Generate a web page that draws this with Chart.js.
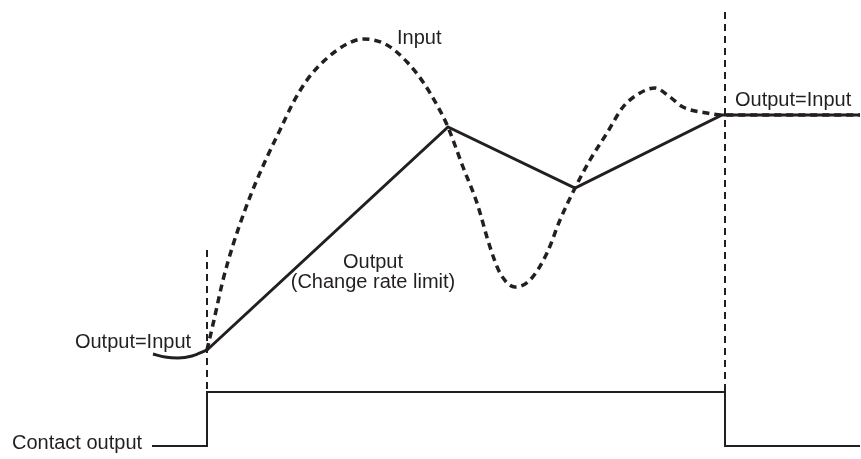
<!DOCTYPE html>
<html>
<head>
<meta charset="utf-8">
<script src="https://cdn.jsdelivr.net/npm/chart.js@4/dist/chart.umd.min.js"></script>
<style>
  html, body { margin: 0; padding: 0; background: #ffffff; }
  #wrap { width: 861px; height: 459px; }
</style>
</head>
<body>
<div id="wrap"><canvas id="c" width="861" height="459"></canvas></div>
<script>
// ---- data (time on x, signal level on y) ----
const inputTime  = [207, 214, 223, 233, 245, 256, 268, 280, 293, 307, 325, 347, 363, 387, 407, 423, 437, 448, 453, 463, 477, 490, 500, 515, 530, 547, 560, 575, 590, 607, 623, 640, 655, 670, 683, 707, 722, 860];
const inputLevel = [109, 139, 179, 214, 249, 277, 304, 329, 356, 379, 399, 415, 420, 414, 397, 377, 354, 332, 319, 292, 256, 212, 186, 172, 179, 206, 239, 271, 299, 326, 352, 366, 371, 362, 352, 346, 344, 344];

const outputBeforeTime  = [153, 165, 178, 192, 207];
const outputBeforeLevel = [105, 102, 101, 103, 109];

const outputLimitTime  = [207, 448, 575, 722, 860];
const outputLimitLevel = [109, 332, 271, 344, 344];

const contactTime  = [152, 207, 725, 860];
const contactLevel = [13, 67, 13, 13];

const startTime = 207, endTime = 725;
const startMarkerLevels = [209, 67];
const endMarkerLevels   = [447, 67];

const labelTexts  = ["Input", "Output=Input", "Output=Input", "Output", "(Change rate limit)", "Contact output"];
const labelTime   = [397, 133, 735, 373, 373, 12];
const labelLevel  = [421, 117, 359, 197, 177, 16];
const labelAlign  = ["left", "center", "left", "center", "center", "left"];

const ink = "#231f20";
const pts = (xs, ys) => xs.map((x, i) => ({ x: x, y: ys[i] }));

const labelPlugin = {
  id: "labels",
  afterDatasetsDraw(chart) {
    const ctx = chart.ctx, xs = chart.scales.x, ys = chart.scales.y;
    ctx.save();
    ctx.fillStyle = ink;
    ctx.font = '20px "Liberation Sans", Arial, sans-serif';
    ctx.textBaseline = "middle";
    labelTexts.forEach((t, i) => {
      ctx.textAlign = labelAlign[i];
      ctx.fillText(t, xs.getPixelForValue(labelTime[i]), ys.getPixelForValue(labelLevel[i]));
    });
    ctx.restore();
  }
};

new Chart(document.getElementById("c"), {
  type: "scatter",
  data: {
    datasets: [
      { label: "Start", data: pts([startTime, startTime], startMarkerLevels), showLine: true,
        borderColor: ink, borderWidth: 2, borderDash: [7, 5], pointRadius: 0, tension: 0 },
      { label: "End", data: pts([endTime, endTime], endMarkerLevels), showLine: true,
        borderColor: ink, borderWidth: 2, borderDash: [7, 5], pointRadius: 0, tension: 0 },
      { label: "Contact output", data: pts(contactTime, contactLevel), showLine: true, stepped: "before",
        borderColor: ink, borderWidth: 2, pointRadius: 0 },
      { label: "Output (before)", data: pts(outputBeforeTime, outputBeforeLevel), showLine: true,
        borderColor: ink, borderWidth: 3, pointRadius: 0, cubicInterpolationMode: "monotone" },
      { label: "Output (rate limit)", data: pts(outputLimitTime, outputLimitLevel), showLine: true,
        borderColor: ink, borderWidth: 3, pointRadius: 0, tension: 0, borderJoinStyle: "miter" },
      { label: "Input", data: pts(inputTime, inputLevel), showLine: true,
        borderColor: ink, borderWidth: 3.5, borderDash: [7, 5], pointRadius: 0, cubicInterpolationMode: "monotone" }
    ]
  },
  options: {
    responsive: false,
    animation: false,
    devicePixelRatio: 1,
    layout: { padding: 0 },
    clip: false,
    plugins: { legend: { display: false }, tooltip: { enabled: false }, title: { display: false } },
    scales: {
      x: { type: "linear", min: 0, max: 861, display: false },
      y: { type: "linear", min: 0, max: 459, display: false }
    }
  },
  plugins: [labelPlugin]
});
</script>
</body>
</html>
